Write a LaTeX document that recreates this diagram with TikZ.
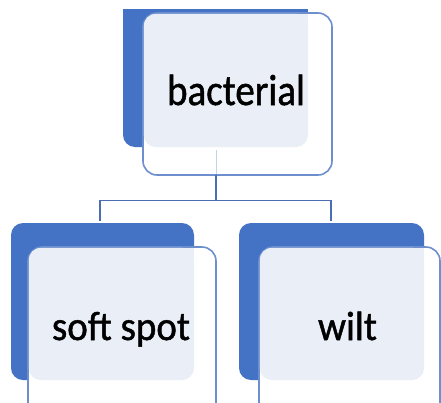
\documentclass[tikz,border=0pt]{standalone}
\usepackage{fontspec}
\setmainfont{Carlito}
\definecolor{accent}{HTML}{4472C4}
\definecolor{lightfill}{HTML}{E9EEF7}
\definecolor{edgeblue}{HTML}{6D8FCE}
\definecolor{linkblue}{HTML}{4A6DB3}
\begin{document}
\begin{tikzpicture}[x=1pt,y=-1pt,
  backbox/.style={fill=accent,draw=none},
  frontbox/.style={fill=white,draw=edgeblue,line width=1.6pt},
  overlap/.style={fill=lightfill,draw=none},
  label/.style={font=\fontsize{39}{39}\selectfont\addfontfeature{FakeBold=1.2},text=black,anchor=base,inner sep=0pt},
  link/.style={draw=linkblue,line width=1.8pt}]
\clip (0,0) rectangle (441,402);
\fill[white] (0,0) rectangle (441,402);
% top
\path[backbox,rounded corners=12pt] (123,0) -- (123,147) -- (308,147) -- (308,0) -- cycle;
\fill[white] (110,0) rectangle (441,9);
\path[backbox] (123,9) rectangle (308,40);
\draw[frontbox,rounded corners=14pt] (143,13) -- (332,13) -- (332,175) -- (143,175) -- cycle;
\path[overlap,rounded corners=12pt] (143.8,13.8) -- (308,13.8) -- (308,147) -- (143.8,147) -- cycle;
\path[overlap] (200,13.8) rectangle (308,30);
\draw[lightfill!70!edgeblue,line width=0.8pt] (216,150) -- (216,174);
\node[label] (top) at (236,105) {\scalebox{1}[1.12]{bacterial}};
\coordinate (tb) at (216,175);
% left
\path[backbox,rounded corners=12pt] (11,223) -- (194,223) -- (194,380) -- (11,380) -- cycle;
\draw[frontbox,rounded corners=14pt] (28,420) -- (28,247) -- (216,247) -- (216,420);
\path[overlap,rounded corners=12pt] (28.8,247.8) -- (194,247.8) -- (194,380) -- (28.8,380) -- cycle;
\path[overlap] (100,247.8) rectangle (194,270);
\node[label] (left) at (121,340) {\scalebox{1}[1.05]{soft spot}};
% right
\path[backbox,rounded corners=12pt] (239,223) -- (424,223) -- (424,380) -- (239,380) -- cycle;
\draw[frontbox,rounded corners=14pt] (259,420) -- (259,247) -- (440,247) -- (440,420);
\path[overlap,rounded corners=12pt] (259.8,247.8) -- (424,247.8) -- (424,380) -- (259.8,380) -- cycle;
\path[overlap] (330,247.8) rectangle (424,270);
\node[label] (right) at (347.5,340) {\scalebox{1}[1.05]{wilt}};
% connectors
\coordinate (lt) at (100,221);
\coordinate (rt) at (331,221);
\draw[link] (tb) -- (216,200.5) -| (lt);
\draw[link] (216,200.5) -| (rt);
\end{tikzpicture}
\end{document}
